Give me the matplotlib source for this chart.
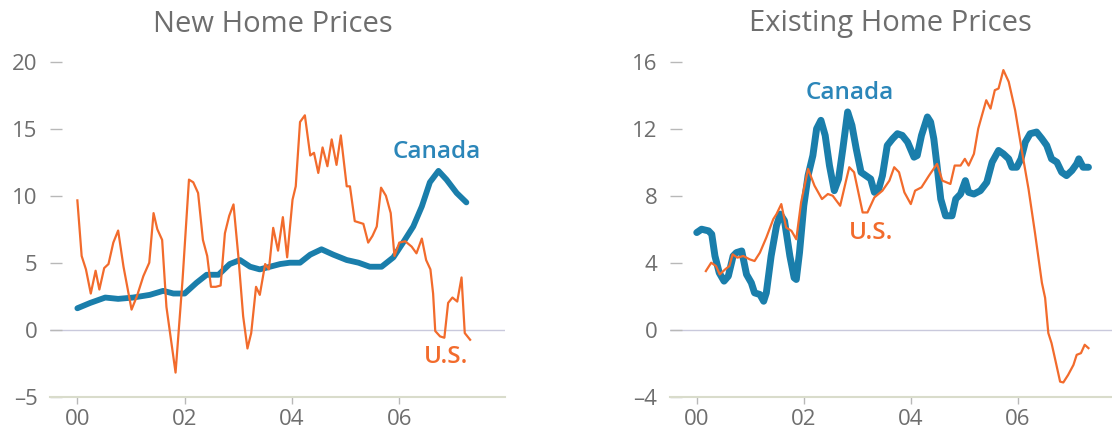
import matplotlib
matplotlib.use("Agg")
import matplotlib.pyplot as plt

plt.rcParams['font.family'] = ['Open Sans', 'DejaVu Sans']

# ---------- data (years since 2000, % y/y) ----------
new_us_x = [0.00, 0.08, 0.16, 0.25, 0.34, 0.41, 0.50, 0.58, 0.67, 0.76, 0.86, 1.01, 1.11, 1.23,
            1.34, 1.42, 1.49, 1.58, 1.66, 1.83, 1.96, 2.08, 2.16, 2.25, 2.34, 2.42, 2.49, 2.58,
            2.67, 2.75, 2.83, 2.91, 3.00, 3.09, 3.17, 3.24, 3.33, 3.40, 3.50, 3.57, 3.65, 3.74,
            3.83, 3.91, 4.01, 4.07, 4.15, 4.24, 4.34, 4.41, 4.49, 4.57, 4.66, 4.74, 4.83, 4.91,
            5.02, 5.08, 5.17, 5.33, 5.42, 5.50, 5.58, 5.66, 5.75, 5.84, 5.91, 6.00, 6.11, 6.23,
            6.32, 6.42, 6.50, 6.58, 6.63, 6.67, 6.76, 6.84, 6.91, 6.99, 7.08, 7.16, 7.22, 7.32]
new_us_y = [9.65, 5.5, 4.5, 2.7, 4.4, 3.0, 4.6, 4.9, 6.5, 7.4, 4.7, 1.5, 2.5, 4.0,
            5.0, 8.7, 7.5, 6.7, 1.7, -3.2, 3.7, 11.2, 11.0, 10.2, 6.7, 5.5, 3.2, 3.2,
            3.3, 7.2, 8.5, 9.35, 5.5, 1.0, -1.4, -0.25, 3.2, 2.6, 4.9, 4.5, 7.6, 5.9,
            8.4, 5.4, 9.7, 10.7, 15.5, 16.0, 13.0, 13.2, 11.7, 13.6, 12.2, 14.2, 12.3, 14.5,
            10.7, 10.7, 8.1, 7.9, 6.5, 7.0, 7.7, 10.6, 10.0, 8.7, 5.5, 6.5, 6.6, 6.2,
            5.7, 6.8, 5.2, 4.5, 2.7, -0.1, -0.5, -0.6, 2.0, 2.4, 2.1, 3.9, -0.25, -0.75]

new_ca_x = [0.00, 0.24, 0.52, 0.76, 1.04, 1.35, 1.60, 1.79, 2.00, 2.22, 2.41, 2.63, 2.84,
            3.03, 3.22, 3.40, 3.59, 3.78, 3.96, 4.15, 4.34, 4.55, 4.77, 5.02, 5.24, 5.45,
            5.67, 5.89, 6.07, 6.26, 6.42, 6.57, 6.73, 6.88, 7.07, 7.25]
new_ca_y = [1.6, 2.0, 2.4, 2.3, 2.4, 2.6, 2.9, 2.7, 2.7, 3.5, 4.1, 4.1, 4.9,
            5.2, 4.7, 4.5, 4.7, 4.9, 5.0, 5.0, 5.6, 6.0, 5.6, 5.2, 5.0, 4.7,
            4.7, 5.4, 6.5, 7.7, 9.2, 11.0, 11.85, 11.2, 10.2, 9.5]

ex_us_x = [0.17, 0.27, 0.36, 0.43, 0.53, 0.61, 0.67, 0.76, 0.87, 0.99, 1.08, 1.18, 1.30, 1.43,
           1.49, 1.58, 1.67, 1.77, 1.86, 1.95, 2.08, 2.20, 2.34, 2.45, 2.54, 2.68, 2.79, 2.85,
           2.94, 3.10, 3.19, 3.32, 3.47, 3.60, 3.69, 3.78, 3.88, 4.00, 4.08, 4.20, 4.34, 4.49,
           4.59, 4.74, 4.82, 4.93, 5.01, 5.08, 5.18, 5.26, 5.33, 5.41, 5.49, 5.57, 5.64, 5.73,
           5.83, 5.95, 6.08, 6.20, 6.32, 6.45, 6.51, 6.57, 6.63, 6.70, 6.79, 6.85, 6.94, 7.04,
           7.10, 7.18, 7.25, 7.32]
ex_us_y = [3.5, 4.0, 3.8, 3.3, 3.6, 3.8, 4.5, 4.3, 4.4, 4.2, 4.1, 4.6, 5.5, 6.6,
           6.9, 7.5, 6.1, 5.9, 5.4, 7.6, 9.6, 8.6, 7.8, 8.1, 8.0, 7.4, 8.9, 9.7,
           9.4, 7.0, 7.0, 7.9, 8.3, 8.9, 9.7, 9.4, 8.2, 7.5, 8.3, 8.5, 9.2, 9.9,
           8.9, 8.7, 9.8, 9.8, 10.2, 9.8, 10.5, 12.0, 12.8, 13.7, 13.2, 14.3, 14.4, 15.5,
           14.8, 13.1, 10.6, 8.4, 5.8, 2.8, 1.9, -0.2, -0.8, -1.8, -3.1, -3.15, -2.7, -2.1,
           -1.5, -1.4, -0.9, -1.1]

ex_ca_x = [0.00, 0.09, 0.22, 0.28, 0.34, 0.42, 0.51, 0.59, 0.68, 0.74, 0.84, 0.93, 1.02, 1.08,
           1.18, 1.25, 1.30, 1.39, 1.49, 1.56, 1.64, 1.74, 1.82, 1.86, 1.92, 2.00, 2.08, 2.17,
           2.24, 2.32, 2.40, 2.48, 2.57, 2.65, 2.73, 2.82, 2.90, 2.98, 3.07, 3.16, 3.25, 3.32,
           3.40, 3.47, 3.56, 3.66, 3.75, 3.84, 3.94, 4.06, 4.12, 4.20, 4.31, 4.37, 4.43, 4.49,
           4.56, 4.65, 4.77, 4.84, 4.93, 5.02, 5.08, 5.18, 5.30, 5.42, 5.52, 5.64, 5.73, 5.83,
           5.89, 5.98, 6.06, 6.14, 6.23, 6.35, 6.45, 6.54, 6.63, 6.73, 6.82, 6.91, 7.01, 7.10,
           7.14, 7.22, 7.32]
ex_ca_y = [5.8, 6.0, 5.9, 5.7, 4.4, 3.4, 2.9, 3.2, 4.4, 4.6, 4.7, 3.3, 2.8, 2.2,
           2.1, 1.7, 2.2, 4.4, 6.2, 6.9, 6.5, 4.4, 3.1, 3.0, 4.6, 7.4, 9.2, 10.4,
           12.0, 12.5, 11.6, 9.8, 8.3, 9.0, 10.8, 13.0, 12.2, 10.8, 9.4, 9.2, 9.0, 8.2,
           8.4, 9.2, 11.0, 11.4, 11.7, 11.6, 11.2, 10.3, 10.4, 11.6, 12.7, 12.4, 11.4, 9.8,
           7.8, 6.8, 6.8, 7.8, 8.1, 8.9, 8.2, 8.1, 8.3, 8.8, 10.0, 10.7, 10.5, 10.2,
           9.7, 9.7, 10.2, 11.2, 11.7, 11.8, 11.4, 11.0, 10.2, 10.0, 9.4, 9.2, 9.5, 9.9,
           10.2, 9.7, 9.7]

x_ticks = [0, 2, 4, 6]
x_tick_labels = ["00", "02", "04", "06"]
titles = ["New Home Prices", "Existing Home Prices"]

# ---------- style ----------
BLUE = "#1a7eab"
BLUE_TXT = "#2b86b9"
ORANGE = "#f26b2c"
GRAY_TXT = "#6e6e6e"
TICK_C = "#b8b8b8"
SPINE_C = "#d9dccb"
ZERO_C = "#c9c9dc"

W, H = 1112, 434
fig = plt.figure(figsize=(W / 100, H / 100), dpi=100)

def px_axes(x0, x1, ytop, ybot):
    return fig.add_axes([x0 / W, 1 - ybot / H, (x1 - x0) / W, (ybot - ytop) / H])

ax1 = px_axes(50, 505, 61.7, 396.7)
ax2 = px_axes(670, 1112, 61.7, 396.7)

def style(ax, ylim, yticks, xlim, title, title_x):
    ax.set_xlim(*xlim)
    ax.set_ylim(*ylim)
    for s in ["top", "right", "left"]:
        ax.spines[s].set_visible(False)
    ax.spines["bottom"].set_color(SPINE_C)
    ax.spines["bottom"].set_linewidth(1.5)
    ax.axhline(0, color=ZERO_C, lw=1.0, zorder=1)
    ax.set_yticks(yticks)
    ax.set_yticklabels([("\u2013" + str(-v)) if v < 0 else str(v) for v in yticks])
    ax.set_xticks(x_ticks)
    ax.set_xticklabels(x_tick_labels)
    ax.tick_params(axis="y", direction="in", length=8.5, width=1.0, color=TICK_C,
                   labelsize=16, labelcolor=GRAY_TXT, pad=9)
    ax.tick_params(axis="x", direction="out", length=5, width=1.0, color=TICK_C,
                   labelsize=16, labelcolor=GRAY_TXT, pad=4)
    fig.text(title_x / W, 1 - 24 / H, title, ha="center", va="center",
             fontsize=21, color=GRAY_TXT)

style(ax1, (-5, 20), [-5, 0, 5, 10, 15, 20], (-0.51, 7.97), titles[0], 273)
style(ax2, (-4, 16), [-4, 0, 4, 8, 12, 16], (-0.5, 7.76), titles[1], 890)

ax1.plot(new_us_x, new_us_y, color=ORANGE, lw=1.6, zorder=3)
ax1.plot(new_ca_x, new_ca_y, color=BLUE, lw=4.2, zorder=2, solid_capstyle="round")
ax2.plot(ex_us_x, ex_us_y, color=ORANGE, lw=1.6, zorder=3)
ax2.plot(ex_ca_x, ex_ca_y, color=BLUE, lw=5.0, zorder=2, solid_capstyle="round")

def label(px, py, text, color):
    fig.text(px / W, 1 - py / H, text, ha="center", va="center", fontsize=17.5,
             color=color, fontweight="semibold")

label(437, 152, "Canada", BLUE_TXT)
label(446, 357, "U.S.", ORANGE)
label(850, 93, "Canada", BLUE_TXT)
label(871, 233, "U.S.", ORANGE)

fig.savefig("out.png", dpi=100)
